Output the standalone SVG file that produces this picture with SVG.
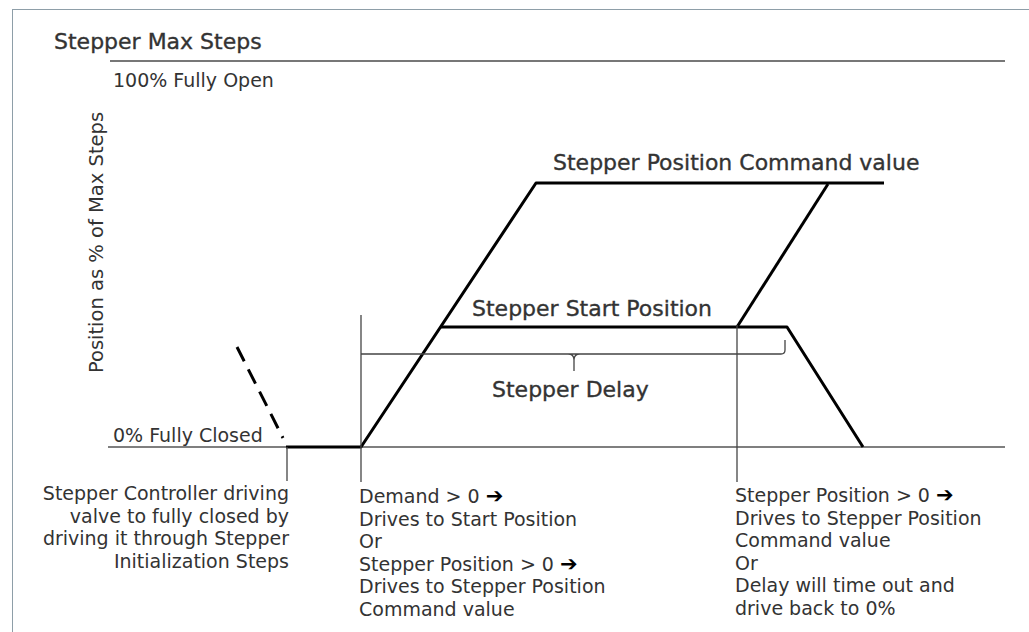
<svg xmlns="http://www.w3.org/2000/svg" width="1029" height="632" viewBox="0 0 1029 632">
<style>
text{font-family:"DejaVu Sans","Liberation Sans",sans-serif;fill:#333}
.lbl{font-size:22px;stroke:#333;stroke-width:0.35}
.body{font-size:19px}
.thick{stroke:#000;stroke-width:3;fill:none;stroke-linejoin:round}
.thin{stroke:#444;stroke-width:1.3;fill:none}
.arr{fill:#000;font-weight:bold;font-size:21px}
</style>
<rect x="12.5" y="9.5" width="1100" height="700" fill="#fff" stroke="#8e9ea8" stroke-width="1"/>
<g id="title"><text class="lbl" x="54" y="49">Stepper Max Steps</text></g>
<g id="axes">
<line x1="110" y1="61" x2="1005" y2="61" stroke="#777" stroke-width="2"/>
<line x1="108" y1="447" x2="1005" y2="447" stroke="#555" stroke-width="1.3"/>
<text class="body" x="113" y="87">100% Fully Open</text>
<text class="body" x="113" y="442">0% Fully Closed</text>
<text class="body" text-anchor="middle" transform="translate(103,242.5) rotate(-90)" style="font-size:19.5px">Position as % of Max Steps</text>
</g>
<g id="connectors">
<line class="thick" x1="237" y1="347" x2="283" y2="438" stroke-dasharray="16 9"/>
<polyline class="thick" points="286,447 361,447 536,183 884,183"/>
<polyline class="thick" points="828,184 737,327"/>
<polyline class="thick" points="441,327 787,327 863,447"/>
<line class="thin" x1="287" y1="447" x2="287" y2="481"/>
<line class="thin" x1="361" y1="315" x2="361" y2="482"/>
<line class="thin" x1="737" y1="325" x2="737" y2="482"/>
<path class="thin" d="M361,354 H781 Q785,354 785,350 V340 M568,354 Q574,354 574,360 V371 M574,360 Q574,354 580,354"/>
</g>
<g id="cmd"><text class="lbl" x="553" y="170">Stepper Position Command value</text></g>
<g id="start"><text class="lbl" x="472" y="316">Stepper Start Position</text></g>
<g id="delay"><text class="lbl" x="492" y="397">Stepper Delay</text></g>
<g id="note-left">
<text class="body" text-anchor="end" x="289" y="500">Stepper Controller driving</text>
<text class="body" text-anchor="end" x="289" y="522.5">valve to fully closed by</text>
<text class="body" text-anchor="end" x="289" y="545">driving it through Stepper</text>
<text class="body" text-anchor="end" x="289" y="567.5">Initialization  Steps</text>
</g>
<g id="note-mid">
<text class="body" x="359" y="503">Demand &gt; 0 <tspan class="arr">➔</tspan></text>
<text class="body" x="359" y="525.5">Drives to Start Position</text>
<text class="body" x="359" y="548">Or</text>
<text class="body" x="359" y="570.5">Stepper Position &gt; 0 <tspan class="arr">➔</tspan></text>
<text class="body" x="359" y="593">Drives to Stepper Position</text>
<text class="body" x="359" y="615.5">Command value</text>
</g>
<g id="note-right">
<text class="body" x="735" y="502">Stepper Position &gt; 0 <tspan class="arr">➔</tspan></text>
<text class="body" x="735" y="524.5">Drives to Stepper Position</text>
<text class="body" x="735" y="547">Command value</text>
<text class="body" x="735" y="569.5">Or</text>
<text class="body" x="735" y="592">Delay will time out and</text>
<text class="body" x="735" y="614.5">drive back to 0%</text>
</g>
</svg>
